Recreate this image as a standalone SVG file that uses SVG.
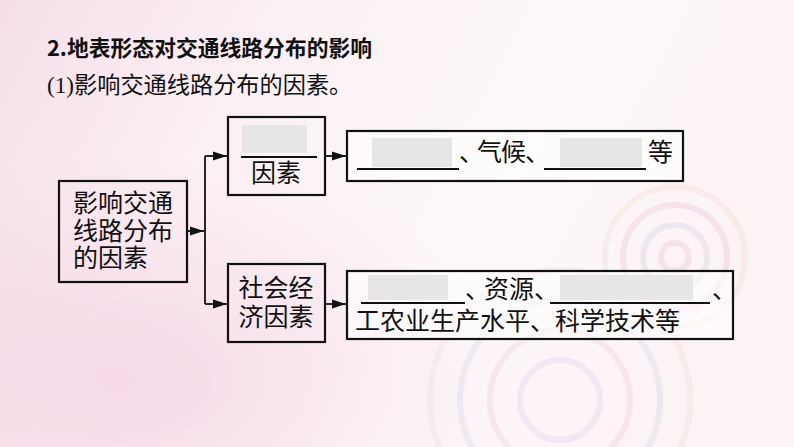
<svg xmlns="http://www.w3.org/2000/svg" width="794" height="447" viewBox="0 0 794 447">
<defs>
<linearGradient id="bg" x1="0" y1="0" x2="1" y2="0.3">
<stop offset="0" stop-color="#f6dfe8"/>
<stop offset="0.35" stop-color="#fbf1f5"/>
<stop offset="0.7" stop-color="#fdf8fa"/>
<stop offset="1" stop-color="#fcf3f5"/>
</linearGradient>
<radialGradient id="glow" cx="0.15" cy="0.85" r="0.5">
<stop offset="0" stop-color="#f3cfe0" stop-opacity="0.7"/>
<stop offset="1" stop-color="#f3cfe0" stop-opacity="0"/>
</radialGradient>
<marker id="ah" markerUnits="userSpaceOnUse" markerWidth="16" markerHeight="12" refX="14" refY="6" orient="auto">
<path d="M0,1.5 L14,6 L0,10.5 z" fill="#111"/>
</marker>
<style>
.box{fill:none;stroke:#111;stroke-width:2.2}
.wbox{fill:#ffffff;fill-opacity:0.55;stroke:#111;stroke-width:2.2}
.blank{fill:#e6e6e6}
.ul{stroke:#111;stroke-width:1.8}
.t{font-family:"Liberation Serif","Noto Sans CJK SC",serif;font-size:25px;fill:#111}
.c{text-anchor:middle}
.con{fill:none;stroke:#111;stroke-width:1.8}
.ring{fill:none;stroke-width:6}
</style>
</defs>
<rect width="794" height="447" fill="url(#bg)"/>
<rect width="794" height="447" fill="url(#glow)"/>
<g opacity="0.28">
<circle class="ring" cx="675" cy="257" r="14" stroke="#e9b6cf"/>
<circle class="ring" cx="675" cy="257" r="32" stroke="#c9c6e8"/>
<circle class="ring" cx="675" cy="257" r="52" stroke="#e8b6d2"/>
<circle class="ring" cx="675" cy="257" r="70" stroke="#f1d6c8"/>
<circle class="ring" cx="560" cy="400" r="40" stroke="#d8c6ea" stroke-width="10"/>
<circle class="ring" cx="560" cy="400" r="70" stroke="#f0c2d6" stroke-width="12"/>
<circle class="ring" cx="560" cy="400" r="100" stroke="#c8d2ec" stroke-width="12"/>
<circle class="ring" cx="560" cy="400" r="130" stroke="#f3d8cf" stroke-width="10"/>
</g>

<g id="title">
<text x="47" y="56" style="font-family:'Noto Sans CJK SC','Liberation Sans',sans-serif;font-size:21.8px;font-weight:bold;fill:#111">2.地表形态对交通线路分布的影响</text>
<text x="47" y="93" style="font-family:'Liberation Serif','Noto Sans CJK SC',serif;font-size:23.2px;fill:#111">(1)影响交通线路分布的因素。</text>
</g>

<g id="connectors">
<path class="con" d="M187,231 H204" marker-end="url(#ah)"/>
<path class="con" d="M205,156 V304"/>
<path class="con" d="M205,156 H227" marker-end="url(#ah)"/>
<path class="con" d="M205,304 H227" marker-end="url(#ah)"/>
<path class="con" d="M325,156 H346" marker-end="url(#ah)"/>
<path class="con" d="M325,304 H346" marker-end="url(#ah)"/>
</g>

<g id="node-main">
<rect class="box" x="59" y="181" width="128" height="101"/>
<text class="t c" x="123" y="212">影响交通</text>
<text class="t c" x="123" y="240">线路分布</text>
<text class="t" x="73" y="267">的因素</text>
</g>

<g id="node-natural">
<rect class="box" x="228" y="117" width="97" height="78"/>
<rect class="blank" x="242" y="125" width="65" height="28"/>
<line class="ul" x1="241" y1="157" x2="317" y2="157"/>
<text class="t c" x="276" y="182">因素</text>
</g>

<g id="node-natural-detail">
<rect class="wbox" x="347" y="131" width="336" height="50"/>
<rect class="blank" x="372" y="138" width="80" height="29"/>
<line class="ul" x1="357" y1="169" x2="459" y2="169"/>
<text class="t" x="459 477 501 525" y="161">、气候、</text>
<rect class="blank" x="560" y="138" width="82" height="29"/>
<line class="ul" x1="544" y1="169" x2="646" y2="169"/>
<text class="t" x="648" y="161">等</text>
</g>

<g id="node-social">
<rect class="box" x="228" y="264" width="97" height="78"/>
<text class="t c" x="276" y="297">社会经</text>
<text class="t c" x="276" y="326">济因素</text>
</g>

<g id="node-social-detail">
<rect class="wbox" x="347" y="271" width="386" height="68"/>
<rect class="blank" x="368" y="275" width="80" height="25"/>
<line class="ul" x1="361" y1="303" x2="465" y2="303"/>
<text class="t" x="465 484 509 534" y="298">、资源、</text>
<rect class="blank" x="560" y="275" width="133" height="25"/>
<line class="ul" x1="550" y1="303" x2="710" y2="303"/>
<text class="t" x="712" y="298">、</text>
<text class="t" x="355" y="330">工农业生产水平、科学技术等</text>
</g>
</svg>
